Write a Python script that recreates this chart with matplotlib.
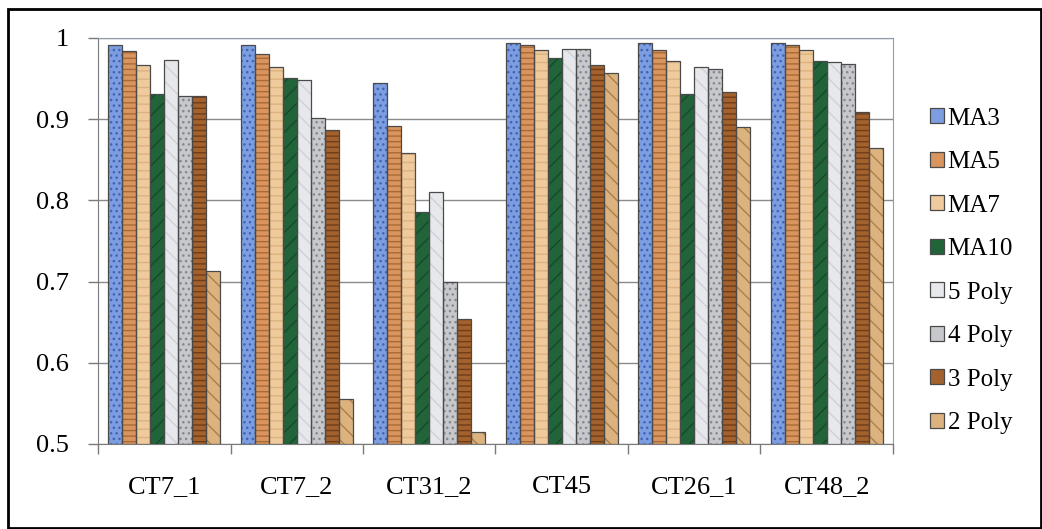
import numpy as np
import matplotlib
matplotlib.use("Agg")
import matplotlib.pyplot as plt
from matplotlib.patches import Rectangle, Patch
from matplotlib.ticker import FixedLocator

categories = ["CT7_1", "CT7_2", "CT31_2", "CT45", "CT26_1", "CT48_2"]
series_names = ["MA3", "MA5", "MA7", "MA10", "5 Poly", "4 Poly", "3 Poly", "2 Poly"]

ma3 = [0.991, 0.991, 0.944, 0.994, 0.994, 0.994]
ma5 = [0.984, 0.980, 0.892, 0.991, 0.985, 0.991]
ma7 = [0.967, 0.964, 0.858, 0.985, 0.972, 0.985]
ma10 = [0.931, 0.951, 0.786, 0.975, 0.931, 0.972]
poly5 = [0.973, 0.948, 0.810, 0.987, 0.964, 0.971]
poly4 = [0.929, 0.901, 0.700, 0.987, 0.962, 0.968]
poly3 = [0.929, 0.887, 0.654, 0.967, 0.933, 0.909]
poly2 = [0.713, 0.556, 0.515, 0.957, 0.890, 0.865]

series_values = [ma3, ma5, ma7, ma10, poly5, poly4, poly3, poly2]

# fill colour, hatch colour, hatch pattern for each series
styles = [
    ("#7c9de0", "#3f64b5", "..."),
    ("#d9955d", "#a86a36", "---"),
    ("#efca9c", "#dcb27f", "--"),
    ("#22643a", "#17482a", "//"),
    ("#e7e8ec", "#cfd1d6", "\\\\"),
    ("#c7c8cc", "#85888e", "..."),
    ("#a3612d", "#6f3d17", "---"),
    ("#dcb37f", "#a98048", "\\\\"),
]

plt.rcParams["font.family"] = ["Liberation Serif", "DejaVu Serif"]
plt.rcParams["hatch.linewidth"] = 1.0

fig = plt.figure(figsize=(10.42, 5.29), dpi=100)
ax = fig.add_axes([98 / 1042, 1 - 444 / 529, 795 / 1042, (444 - 38) / 529])

x = np.arange(len(categories))
width = 0.1057
for i, (vals, (fc, hc, hatch)) in enumerate(zip(series_values, styles)):
    pos = x + (i - 3.5) * width
    heights = np.array(vals) - 0.5
    ax.bar(pos, heights, width, bottom=0.5, color=fc, edgecolor=hc,
           hatch=hatch, linewidth=0, zorder=3)
    ax.bar(pos, heights, width, bottom=0.5, fill=False,
           edgecolor="#4a4a4a", linewidth=0.9, zorder=4)

ax.set_xlim(-0.5, len(categories) - 0.5)
ax.set_ylim(0.5, 1.0)
ax.set_yticks([0.5, 0.6, 0.7, 0.8, 0.9, 1.0])
ax.set_yticklabels(["0.5", "0.6", "0.7", "0.8", "0.9", "1"])
ax.set_xticks(x)
ax.set_xticklabels(categories)
ax.xaxis.set_minor_locator(FixedLocator(np.arange(-0.5, len(categories), 1.0)))

ax.grid(axis="y", color="#8a8a8a", linewidth=1.0, zorder=0)
ax.tick_params(axis="y", length=7, width=1, color="#7a7a7a", pad=14, labelsize=19)
ax.tick_params(axis="x", which="major", length=0, pad=23, labelsize=19)
ax.tick_params(axis="x", which="minor", length=7, width=1, color="#7a7a7a")

for side in ["left", "bottom"]:
    ax.spines[side].set_color("#7a7a7a")
for side in ["top", "right"]:
    ax.spines[side].set_color("#8e9cb0")

handles = [Patch(facecolor=fc, edgecolor="#4a4a4a", linewidth=0.9)
           for fc, hc, hatch in styles]
fig.legend(handles, series_names, loc="center left",
           bbox_to_anchor=(930 / 1042, 1 - 271 / 529), frameon=False,
           fontsize=18, borderpad=0, borderaxespad=0,
           handlelength=0.55, handleheight=0.55, handletextpad=0.15,
           labelspacing=0.86)

fig.patches.append(Rectangle((7.5 / 1042, 1.5 / 529), 1033 / 1042, 519 / 529,
                             transform=fig.transFigure, fill=False,
                             edgecolor="black", linewidth=2))

fig.savefig("out.png", dpi=100)
